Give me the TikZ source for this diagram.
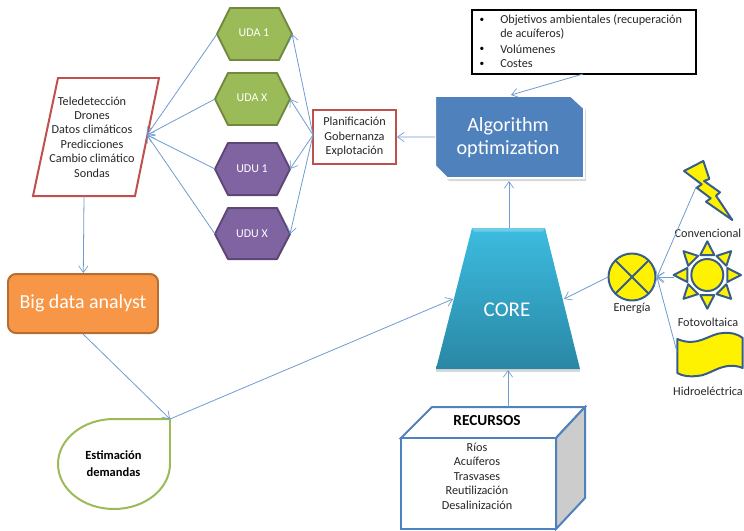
\documentclass[tikz,border=0pt]{standalone}
\usepackage{fontspec}
\setmainfont{Carlito}
\usepackage{xcolor}
\usetikzlibrary{arrows.meta}
\definecolor{linkblue}{HTML}{6F9BD1}
\definecolor{accblue}{HTML}{4F81BD}
\definecolor{accred}{HTML}{C0504D}
\definecolor{accgreen}{HTML}{9BBB59}
\definecolor{darkgreen}{HTML}{71893F}
\definecolor{accpurple}{HTML}{8064A2}
\definecolor{darkpurple}{HTML}{5C4776}
\definecolor{accorange}{HTML}{F79646}
\definecolor{darkorange}{HTML}{B66D31}
\definecolor{symblue}{HTML}{385D8A}
\definecolor{textgrey}{HTML}{262626}
\definecolor{coretop}{HTML}{3CBCE0}
\definecolor{corebot}{HTML}{2A87A5}
\tikzset{
  link/.style={linkblue, line width=0.6pt, -{Straight Barb[length=5pt,width=7pt,line width=0.5pt]}},
  green hex/.style={draw=darkgreen, fill=accgreen, line width=1.5pt, line join=round},
  purple hex/.style={draw=darkpurple, fill=accpurple, line width=1.5pt, line join=round},
  hex label/.style={text=white, font=\fontsize{9pt}{10pt}\selectfont},
  sym/.style={draw=symblue, fill=yellow, line width=1.5pt, line join=round},
  plain text/.style={text=textgrey, align=center, font=\fontsize{9.2pt}{10.9pt}\selectfont},
  every node/.append style={inner sep=0pt}
}
\begin{document}
\begin{tikzpicture}[scale=0.2646]
\useasboundingbox (0,0) rectangle (74.4,-53);
% sensors
\draw [accred, line width=1.5pt, fill=white] (5.8,-7.8) -- (15.9,-7.8) -- (13.5,-19.6) -- (3.3,-19.6) -- cycle;
\draw (9.2,-13.7) node (sensors) [plain text] {Teledetección\\Drones\\Datos climáticos\\Predicciones\\Cambio climático\\Sondas};
\coordinate (sensorsin) at (14.7,-13.5);
\coordinate (sensorsout) at (8.4,-19.6);
% units
\draw [green hex] (21.7,-3.4) -- (23,-0.8) -- (27.9,-0.8) -- (29.2,-3.4) -- (27.9,-6) -- (23,-6) -- cycle;
\draw (25.4,-3.3) node (uda1) [hex label] {UDA 1};
\draw [green hex] (21.5,-9.9) -- (22.8,-7.3) -- (27.7,-7.3) -- (29,-9.9) -- (27.7,-12.5) -- (22.8,-12.5) -- cycle;
\draw (25.2,-9.8) node (udax) [hex label] {UDA X};
\draw [purple hex] (21.5,-16.9) -- (22.8,-14.3) -- (27.7,-14.3) -- (29,-16.9) -- (27.7,-19.5) -- (22.8,-19.5) -- cycle;
\draw (25.2,-16.9) node (udu1) [hex label] {UDU 1};
\draw [purple hex] (21.5,-23.4) -- (22.8,-20.8) -- (27.7,-20.8) -- (29,-23.4) -- (27.7,-25.9) -- (22.8,-25.9) -- cycle;
\draw (25.2,-23.4) node (udux) [hex label] {UDU X};
\coordinate (uda1w) at (21.7,-3.4);
\coordinate (uda1e) at (29.2,-3.4);
\coordinate (udaxw) at (21.5,-9.9);
\coordinate (udaxe) at (29,-9.9);
\coordinate (udu1w) at (21.5,-16.9);
\coordinate (udu1e) at (29,-16.9);
\coordinate (uduxw) at (21.5,-23.4);
\coordinate (uduxe) at (29,-23.4);
% planning
\node (plan) [draw=accred, line width=1.5pt, fill=white, minimum width=8.3*0.2646cm, minimum height=5.4*0.2646cm, plain text] at (35.45,-13.7) {Planificación\\Gobernanza\\Explotación};
\coordinate (planw) at (31.3,-13.5);
% algorithm
\fill [black!15] (43.7,-9.8) -- (57.3,-9.8) -- (58.6,-11) -- (58.6,-18.1) -- (44.9,-18.1) -- (43.7,-16.9) -- cycle;
\draw [white, line width=1.5pt, fill=accblue] (43.5,-9.6) -- (57.1,-9.6) -- (58.4,-10.8) -- (58.4,-17.8) -- (44.7,-17.8) -- (43.5,-16.6) -- cycle;
\draw (50.8,-13.75) node (algo) [text=white, align=center, font=\fontsize{15.2pt}{17.4pt}\selectfont] {Algorithm\\optimization};
\coordinate (algow) at (43.5,-13.7);
\coordinate (algon) at (51.1,-9.5);
\coordinate (algos) at (50.9,-18.1);
% goals
\node (goals) [draw=black, line width=1.5pt, fill=white, minimum width=22.4*0.2646cm, minimum height=6.4*0.2646cm] at (58.4,-4.2) {};
\draw (48.2,-2) node (bulleta) [font=\scriptsize] {\textbullet};
\draw (48.2,-4.9) node (bulletb) [font=\scriptsize] {\textbullet};
\draw (48.2,-6.4) node (bulletc) [font=\scriptsize] {\textbullet};
\draw (50,-2) node (goala) [anchor=west, plain text] {Objetivos ambientales (recuperación};
\draw (50,-3.4) node (goalb) [anchor=west, plain text] {de acuíferos)};
\draw (50,-4.9) node (goalc) [anchor=west, plain text] {Volúmenes};
\draw (50,-6.4) node (goald) [anchor=west, plain text] {Costes};
\coordinate (goalsout) at (58.3,-7.4);
% core
\fill [black!15] (43.6,-36.9) rectangle (58,-37.15);
\shade [top color=coretop, bottom color=corebot] (47.2,-22.8) -- (54.5,-22.8) -- (58,-36.9) -- (43.6,-36.9) -- cycle;
\fill [coretop!75!white] (47.2,-22.8) -- (54.5,-22.8) -- (54.3,-23.15) -- (47.4,-23.15) -- cycle;
\draw (50.7,-31) node (core) [text=white, font=\fontsize{15.8pt}{16pt}\selectfont] {CORE};
\coordinate (coren) at (50.9,-22.8);
\coordinate (corew) at (45.3,-29.9);
\coordinate (coree) at (56.4,-29.9);
\coordinate (cores) at (50.8,-37);
% resources
\draw [accblue, line width=1.5pt, fill=white] (40.1,-43.8) -- (43.2,-40.7) -- (58.5,-40.7) -- (55.6,-43.8) -- cycle;
\draw [accblue, line width=1.5pt, fill=black!20] (55.6,-43.8) -- (58.5,-40.7) -- (58.5,-49.8) -- (55.6,-52.9) -- cycle;
\draw [accblue, line width=1.5pt, fill=white] (40.1,-43.8) rectangle (55.6,-52.9);
\draw (48.7,-42.1) node (rectitle) [text=black, font=\fontsize{11.5pt}{12pt}\selectfont\bfseries] {RECURSOS};
\draw (47.7,-47.6) node (rec) [plain text] {Ríos\\Acuíferos\\Trasvases\\Reutilización\\Desalinización};
\coordinate (recn) at (50.8,-40.7);
% big data
\node (big) [draw=darkorange, fill=accorange, line width=1.5pt, rounded corners=6pt, minimum width=15*0.2646cm, minimum height=5.9*0.2646cm, text=white, font=\fontsize{15pt}{18pt}\selectfont] at (8.3,-30.35) {Big data analyst};
% demand
\draw [accgreen, line width=1.5pt, fill=white] (17,-41.9) -- (17,-46.4) arc (0:-270:5.6 and 4.5) -- cycle;
\draw (11.35,-46.4) node (dem) [text=black, align=center, font=\fontsize{9.4pt}{12.8pt}\selectfont\bfseries] {Estimación\\demandas};
\coordinate (demtip) at (17,-41.9);
% energy
\draw [sym] (63.2,-27.7) circle (2.35);
\draw [symblue, line width=1.5pt] (61.54,-26.04) -- (64.86,-29.36);
\draw [symblue, line width=1.5pt] (61.54,-29.36) -- (64.86,-26.04);
\draw (63.2,-30.8) node (energy) [plain text] {Energía};
\coordinate (energyw) at (60.8,-27.7);
\coordinate (energye) at (65.7,-27.7);
% lightning
\draw [sym] (68.4,-17.1) -- (70.33,-16.1) -- (70.93,-17.9) -- (70.4,-18.1) -- (72,-19.23) -- (71.6,-19.57) -- (73.23,-22) -- (70.6,-20.17) -- (71.07,-19.83) -- (69.67,-18.77) -- (70.17,-18.43) -- cycle;
\coordinate (boltin) at (69.6,-18.7);
\draw (70.8,-23.3) node (conv) [plain text] {Convencional};
% sun
\draw [sym] (70.73,-27.5) circle (1.6);
\foreach \a in {0,45,...,315}
  \draw [sym, rotate around={\a:(70.73,-27.5)}] (72.73,-26.8) -- (72.73,-28.2) -- (74.1,-27.5) -- cycle;
\coordinate (sunw) at (67.4,-27.7);
\draw (70.8,-32.2) node (solar) [plain text] {Fotovoltaica};
% flag
\draw [sym] (67.73,-33.9) .. controls (69.8,-34.8) and (71,-33.3) .. (72.3,-33.3) .. controls (73,-33.2) and (73.8,-33.4) .. (74.27,-33.8) -- (74.27,-36.8) .. controls (72.3,-36) and (71,-37.6) .. (69.7,-37.6) .. controls (69,-37.7) and (68.2,-37.6) .. (67.73,-37.3) -- cycle;
\coordinate (flagw) at (67.7,-35.2);
\draw (70.8,-39.1) node (hydro) [plain text] {Hidroeléctrica};
% connectors
\draw [link] (uda1w) -- (sensorsin);
\draw [link] (udaxw) -- (sensorsin);
\draw [link] (udu1w) -- (sensorsin);
\draw [link] (uduxw) -- (sensorsin);
\draw [link] (planw) -- (uda1e);
\draw [link] (planw) -- (udaxe);
\draw [link] (planw) -- (udu1e);
\draw [link] (planw) -- (uduxe);
\draw [link] (algow) -- (plan);
\draw [link] (goalsout) -- (algon);
\draw [link] (coren) -- (algos);
\draw [link] (recn) -- (cores);
\draw [link] (energyw) -- (coree);
\draw [link] (boltin) -- (energye);
\draw [link] (sunw) -- (energye);
\draw [link] (flagw) -- (energye);
\draw [link] (sensorsout) -- (big);
\draw [link] (big.south) -- (demtip);
\draw [link] (demtip) -- (corew);
\end{tikzpicture}
\end{document}
